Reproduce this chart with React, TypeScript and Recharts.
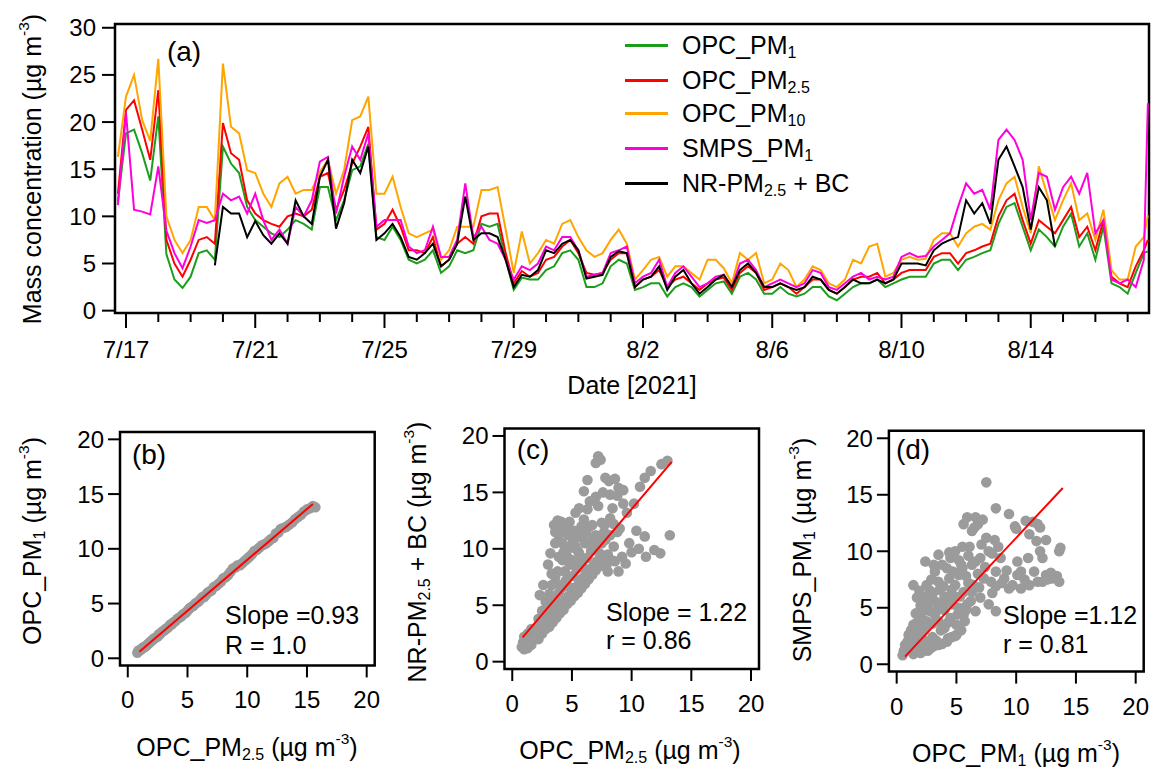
import React from "react";
import {
  LineChart,
  Line,
  XAxis,
  YAxis,
  ReferenceArea,
  ScatterChart,
  Scatter,
} from "recharts";

const FONT = '"Liberation Sans", Arial, Helvetica, sans-serif';

// time in days after 7/17 00:00, one reading every 6 h; last point is the final spike
const T0 = -0.25;
const DT = 0.25;
const T_LAST = 31.625;

const opcPm1 = [
  11.6, 18.8, 19.2, 16.7, 13.8, 20.6, 6.0, 3.3,
  2.4, 3.6, 6.1, 6.4, 5.4, 17.4, 15.6, 14.6,
  11.0, 9.6, 8.9, 8.2, 7.8, 8.6, 9.6, 9.2,
  8.6, 13.1, 13.1, 9.6, 11.7, 14.9, 15.3, 17.7,
  7.8, 7.5, 8.9, 7.5, 5.4, 5.0, 5.4, 6.4,
  4.0, 4.7, 6.4, 6.1, 6.4, 9.2, 8.9, 9.2,
  5.4, 2.2, 3.5, 3.3, 3.3, 4.3, 4.7, 6.1,
  6.4, 5.4, 2.5, 2.5, 2.9, 4.7, 5.4, 5.0,
  2.2, 2.5, 2.9, 2.9, 1.5, 2.5, 2.9, 2.5,
  1.5, 2.2, 2.9, 3.1, 1.8, 3.6, 4.0, 3.3,
  1.8, 1.8, 2.5, 1.8, 1.5, 1.8, 2.5, 2.5,
  1.5, 1.1, 1.8, 2.5, 2.9, 2.9, 3.3, 2.5,
  2.9, 3.3, 3.6, 3.6, 3.6, 5.0, 5.4, 5.4,
  4.3, 5.4, 5.7, 6.1, 6.4, 9.2, 11.0, 11.4,
  8.9, 6.4, 8.6, 7.8, 6.8, 8.9, 10.3, 6.8,
  8.2, 5.4, 8.9, 2.9, 2.5, 1.8, 4.0, 6.1,
  6.3,
];

const opcPm25 = [
  12.4, 21.3, 22.3, 19.2, 16.0, 23.4, 7.5, 5.0,
  3.6, 5.4, 7.5, 7.8, 7.1, 19.9, 16.7, 16.0,
  11.7, 10.3, 9.6, 9.2, 8.9, 10.0, 10.3, 10.0,
  10.7, 14.2, 14.6, 10.7, 12.8, 15.6, 17.4, 19.5,
  8.6, 9.2, 10.7, 8.9, 6.4, 6.4, 6.1, 7.8,
  4.7, 5.4, 7.1, 7.8, 7.1, 10.0, 10.3, 10.3,
  6.1, 2.9, 4.2, 3.6, 4.0, 5.4, 5.7, 6.8,
  7.5, 6.1, 4.0, 3.8, 4.0, 5.4, 6.1, 6.1,
  2.5, 3.3, 3.6, 4.3, 2.5, 3.3, 3.6, 2.9,
  2.2, 2.9, 3.3, 3.5, 2.2, 4.0, 4.7, 4.0,
  2.2, 2.5, 2.9, 2.5, 1.8, 2.5, 3.3, 3.3,
  2.2, 1.8, 2.5, 3.3, 3.6, 3.6, 4.0, 2.9,
  3.3, 4.0, 4.3, 4.3, 4.3, 5.7, 6.1, 6.1,
  5.0, 6.1, 6.4, 6.8, 7.1, 10.0, 11.7, 12.4,
  9.6, 7.1, 9.6, 8.9, 8.2, 9.6, 11.0, 7.8,
  8.9, 6.4, 9.6, 3.6, 2.9, 2.5, 4.7, 6.4,
  7.5,
];

const opcPm10 = [
  16.3, 22.7, 25.0, 20.2, 18.0, 26.7, 10.0, 7.5,
  6.1, 7.5, 11.0, 11.0, 9.6, 26.2, 19.5, 18.8,
  14.9, 14.6, 12.4, 11.0, 13.5, 14.2, 12.4, 12.8,
  12.8, 14.7, 16.0, 12.4, 14.9, 20.2, 20.6, 22.7,
  12.4, 12.4, 14.2, 11.0, 8.2, 7.8, 8.2, 8.6,
  5.4, 6.4, 8.9, 8.9, 8.9, 12.8, 12.8, 13.1,
  8.6, 4.0, 8.4, 5.0, 6.1, 7.5, 7.1, 9.2,
  9.6, 7.8, 6.4, 5.7, 6.1, 7.5, 8.6, 7.1,
  3.3, 4.3, 5.4, 5.7, 3.6, 4.7, 4.7, 4.0,
  3.3, 5.4, 5.4, 4.5, 2.9, 6.1, 5.4, 6.1,
  2.9, 3.3, 5.0, 4.3, 2.5, 3.3, 4.7, 4.3,
  2.9, 2.5, 3.3, 5.4, 5.0, 6.8, 7.1, 3.6,
  4.0, 5.4, 5.7, 5.4, 5.5, 7.5, 8.2, 8.2,
  6.8, 8.2, 8.9, 9.2, 8.6, 11.7, 13.5, 14.2,
  11.0, 8.2, 15.3, 12.4, 9.6, 11.7, 13.5, 9.6,
  10.3, 7.5, 10.7, 4.3, 3.3, 3.3, 6.8, 7.8,
  10.1,
];

const smpsPm1 = [
  11.2, 21.0, 10.7, 10.5, 10.2, 15.3, 8.5, 6.1,
  4.5, 6.8, 9.6, 9.3, 9.6, 12.4, 11.7, 12.1,
  10.3, 12.4, 9.6, 7.5, 8.6, 7.1, 11.0, 10.0,
  11.7, 15.8, 16.3, 10.3, 14.2, 17.4, 16.0, 18.8,
  8.9, 9.6, 9.6, 9.6, 6.8, 6.1, 6.4, 8.9,
  5.7, 5.7, 7.5, 13.5, 7.8, 8.9, 7.5, 7.1,
  5.4, 3.3, 4.7, 4.3, 5.0, 6.8, 6.4, 7.8,
  7.8, 6.4, 3.6, 3.8, 4.0, 6.1, 6.4, 6.8,
  2.9, 3.6, 4.0, 5.4, 2.5, 4.0, 4.7, 3.6,
  2.5, 2.9, 3.6, 3.8, 2.5, 5.0, 5.4, 4.3,
  2.5, 2.9, 3.3, 2.9, 2.5, 2.9, 4.3, 4.0,
  2.5, 2.2, 2.9, 3.6, 4.0, 3.3, 3.6, 3.3,
  3.6, 5.7, 6.1, 5.7, 5.8, 6.8, 7.5, 8.2,
  11.0, 13.5, 12.4, 12.8, 10.7, 18.1, 19.2, 18.1,
  16.0, 9.6, 14.6, 14.2, 10.7, 13.1, 14.2, 12.4,
  14.6, 8.2, 9.6, 3.3, 2.9, 3.3, 2.5, 5.4,
  22.0,
];

const nrPm25Bc = [
  null, null, null, null, null, null, null, null,
  null, null, null, null, 4.8, 11.0, 10.3, 10.3,
  7.8, 9.5, 8.0, 7.1, 8.2, 7.1, 11.7, 10.0,
  9.2, 14.2, 16.0, 8.7, 11.4, 16.0, 14.6, 17.4,
  7.5, 8.2, 9.2, 7.8, 5.7, 5.4, 6.1, 7.1,
  4.7, 5.4, 7.1, 12.1, 7.5, 8.2, 8.2, 7.8,
  5.4, 2.5, 3.8, 3.6, 4.3, 6.4, 6.1, 7.1,
  7.5, 6.4, 3.4, 3.6, 3.8, 5.7, 6.3, 6.1,
  2.5, 3.3, 3.6, 4.7, 2.2, 3.6, 4.3, 2.9,
  1.8, 2.5, 3.3, 3.8, 2.5, 4.3, 5.0, 4.0,
  2.5, 2.5, 2.9, 2.5, 2.2, 2.5, 3.6, 3.3,
  2.2, 1.8, 2.5, 3.3, 2.9, 2.9, 3.3, 2.9,
  3.3, 5.0, 5.0, 5.0, 4.8, 6.4, 7.1, 7.5,
  7.8, 11.7, 10.3, 11.4, 9.2, 16.0, 17.4, 15.3,
  13.1, 8.6, 13.1, 11.7, 6.8, null, null, null,
  null, null, null, null, null, null, null, null,
  null,
];

const dayTicks = [
  0, 1, 2, 3, 4, 5, 6, 7, 8, 9, 10, 11, 12, 13, 14, 15,
  16, 17, 18, 19, 20, 21, 22, 23, 24, 25, 26, 27, 28, 29, 30, 31,
];
const dateTicks = [0, 4, 8, 12, 16, 20, 24, 28];
const dateLabels = ["7/17", "7/21", "7/25", "7/29", "8/2", "8/6", "8/10", "8/14"];
const concTicks = [0, 5, 10, 15, 20, 25, 30];
const scatterTicks = [0, 5, 10, 15, 20];

// (b) OPC_PM2.5 vs OPC_PM1
const pointsB: [number, number][] = [
  [0.8, 0.5], [0.9, 0.7], [1.0, 0.7], [1.1, 0.8], [1.2, 0.9], [1.3, 1.0], [1.4, 1.0],
  [1.5, 1.1], [1.6, 1.2], [1.7, 1.3], [1.8, 1.4], [1.9, 1.5], [2.0, 1.6], [2.1, 1.7],
  [2.2, 1.8], [2.35, 1.9], [2.5, 2.0], [2.6, 2.2], [2.7, 2.2], [2.85, 2.4], [3.0, 2.5],
  [3.1, 2.6], [3.2, 2.7], [3.35, 2.8], [3.5, 3.0], [3.6, 3.1], [3.7, 3.1], [3.85, 3.3],
  [4.0, 3.4], [4.15, 3.6], [4.3, 3.7], [4.45, 3.8], [4.6, 4.0], [4.75, 4.1], [4.9, 4.2],
  [5.05, 4.4], [5.2, 4.6], [5.35, 4.7], [5.5, 4.8], [5.65, 5.0], [5.8, 5.1], [5.95, 5.2],
  [6.1, 5.4], [6.25, 5.6], [6.4, 5.6], [6.55, 5.8], [6.7, 6.0], [6.85, 6.1], [7.0, 6.2],
  [7.2, 6.5], [7.4, 6.6], [7.6, 6.8], [7.8, 7.0], [8.0, 7.3], [8.2, 7.4], [8.4, 7.6],
  [8.6, 7.9], [8.8, 8.2], [9.0, 8.3], [9.2, 8.5], [9.4, 8.5], [9.6, 8.7], [9.8, 8.9],
  [10.0, 9.1], [10.2, 9.3], [10.4, 9.5], [10.6, 9.8], [10.8, 9.9], [11.0, 10.1],
  [11.2, 10.3], [11.4, 10.4], [11.6, 10.5], [11.8, 10.7], [12.0, 10.9], [12.2, 11.0],
  [12.4, 11.4], [12.6, 11.5], [12.8, 11.8], [13.0, 11.9], [13.25, 12.0], [13.5, 12.2],
  [13.75, 12.4], [14.0, 12.7], [14.25, 12.9], [14.5, 13.1], [14.75, 13.4], [15.0, 13.6],
  [15.25, 13.7], [15.5, 13.9], [15.7, 13.8],
];

// (c) OPC_PM2.5 vs NR-PM2.5 + BC
const pointsC: [number, number][] = [
  [0.8, 1.3], [0.9, 1.7], [1.0, 2.2], [1.1, 1.4], [1.2, 2.0], [1.3, 2.5], [1.4, 1.6],
  [1.5, 2.3], [1.6, 2.9], [1.7, 1.9], [1.8, 2.7], [2.0, 2.3], [2.1, 3.1], [2.2, 3.8],
  [2.3, 2.6], [2.4, 3.5], [2.6, 3.0], [2.7, 3.9], [2.8, 4.6], [2.9, 3.4], [3.0, 4.4],
  [3.2, 3.7], [3.3, 4.9], [3.4, 5.8], [3.5, 4.1], [3.6, 5.5], [3.8, 4.5], [3.9, 6.1],
  [4.0, 6.8], [4.1, 5.0], [4.2, 6.6], [4.4, 5.4], [4.4, 8.0], [4.5, 7.2], [4.7, 5.8],
  [4.8, 6.6], [4.8, 8.6], [5.0, 6.2], [5.0, 9.0], [5.1, 7.6], [5.3, 6.6], [5.4, 8.2],
  [5.6, 7.0], [5.6, 9.6], [5.7, 8.8], [5.9, 7.4], [6.0, 8.3], [6.1, 10.5], [6.2, 7.7],
  [6.3, 9.2], [6.5, 8.1], [6.6, 9.8], [6.8, 8.5], [6.8, 11.0], [6.9, 10.3], [7.1, 8.9],
  [7.3, 9.6], [7.5, 10.5], [7.6, 9.2], [7.8, 10.8], [8.0, 9.5], [8.2, 11.2], [8.5, 10.2],
  [8.8, 11.5], [2.3, 5.9], [2.6, 6.8], [3.0, 8.6], [3.2, 9.6], [3.3, 7.8], [3.5, 12.1],
  [3.6, 10.5], [3.8, 8.0], [3.8, 12.5], [3.9, 11.2], [4.0, 11.8], [4.2, 9.0], [4.2, 10.5],
  [4.4, 11.6], [4.5, 10.2], [4.6, 12.1], [4.7, 11.2], [5.0, 8.8], [5.1, 10.6], [5.2, 11.6],
  [5.3, 13.2], [5.5, 9.8], [5.8, 11.0], [6.0, 12.6], [6.0, 15.1], [6.3, 16.1], [6.3, 13.5],
  [6.5, 12.0], [6.7, 12.1], [7.0, 11.2], [7.0, 14.6], [7.0, 17.6], [7.2, 18.2], [7.4, 17.9],
  [7.2, 13.8], [7.5, 12.3], [7.8, 12.2], [8.1, 16.0], [8.2, 12.7], [8.2, 14.8], [8.4, 13.6],
  [8.8, 14.7], [8.9, 15.4], [9.3, 15.2], [9.0, 11.8], [9.6, 13.2], [10.2, 14.0], [10.7, 15.5],
  [11.1, 16.3], [11.6, 16.9], [12.5, 17.5], [13.0, 17.8], [7.9, 8.6], [8.6, 8.9], [8.9, 8.0],
  [9.5, 8.7], [9.8, 10.5], [10.0, 9.7], [11.2, 9.3], [11.9, 9.9], [11.1, 11.1], [13.2, 11.2],
  [1.0, 1.1], [1.3, 1.2], [1.6, 1.5], [1.9, 2.0], [2.2, 2.0], [2.5, 2.5], [2.8, 2.9],
  [3.1, 3.1], [3.4, 3.5], [3.7, 3.9], [4.0, 4.3], [4.3, 4.6], [4.6, 5.1], [4.9, 5.4],
  [5.2, 5.8], [5.5, 6.1], [5.8, 6.5], [6.1, 6.9], [6.4, 7.3], [6.7, 7.7], [7.0, 8.1],
  [7.3, 8.5], [7.6, 8.5], [8.0, 8.0], [8.3, 9.0], [2.5, 4.5], [2.8, 5.3], [3.1, 6.0],
  [3.3, 6.8], [3.6, 7.5], [3.9, 9.3], [4.3, 9.7], [4.6, 9.3], [4.9, 10.1], [5.3, 10.2],
  [5.5, 11.2], [5.8, 12.0], [6.2, 11.5], [6.6, 10.7], [7.3, 10.9], [7.7, 11.5], [8.5, 12.2],
  [3.6, 11.5], [4.1, 12.4], [4.8, 12.4], [5.6, 13.6], [6.5, 14.2], [7.6, 15.0], [7.8, 16.3],
  [8.6, 16.2], [9.3, 14.0], [10.4, 11.6], [10.6, 10.0], [12.4, 9.6], [9.2, 9.3],
];

// (d) OPC_PM1 vs SMPS_PM1
const pointsD: [number, number][] = [
  [0.5, 0.8], [0.7, 1.7], [0.8, 1.2], [1.0, 2.6], [1.0, 1.4], [1.2, 2.0], [1.2, 3.0],
  [1.4, 3.5], [1.4, 0.9], [1.5, 2.8], [1.6, 4.5], [1.7, 2.3], [1.7, 5.9], [1.4, 7.0],
  [1.8, 1.5], [1.9, 4.0], [2.0, 1.0], [2.0, 5.2], [2.1, 4.1], [2.1, 1.1], [2.2, 6.0],
  [2.3, 3.0], [2.4, 3.2], [2.4, 9.1], [2.5, 1.8], [2.5, 7.0], [2.6, 5.0], [2.8, 4.7],
  [2.8, 6.5], [2.8, 1.4], [3.0, 3.6], [3.0, 2.4], [3.0, 6.2], [3.1, 8.8], [3.1, 1.6],
  [3.2, 4.4], [3.3, 5.5], [3.5, 3.8], [3.5, 7.3], [3.5, 9.7], [3.5, 1.7], [3.6, 6.6],
  [3.8, 5.0], [3.8, 1.8], [4.0, 6.0], [4.0, 4.8], [4.0, 3.2], [4.2, 8.5], [4.2, 2.0],
  [4.3, 2.3], [4.4, 7.6], [4.5, 4.1], [4.5, 9.4], [4.6, 2.4], [4.7, 5.3], [4.8, 6.0],
  [4.9, 2.5], [4.9, 7.0], [4.9, 10.0], [5.0, 2.6], [5.2, 7.9], [5.2, 5.0], [5.2, 9.2],
  [5.4, 3.0], [5.5, 8.5], [5.6, 4.4], [5.6, 6.4], [5.6, 12.4], [5.7, 3.8], [5.9, 5.3],
  [5.9, 13.0], [6.0, 7.2], [6.0, 9.6], [6.3, 6.4], [6.3, 8.8], [6.3, 11.8], [6.6, 4.7],
  [6.6, 13.0], [6.8, 12.4], [6.8, 8.0], [7.0, 5.9], [7.0, 9.4], [7.3, 7.6], [7.5, 11.2],
  [7.5, 16.1], [7.7, 5.3], [7.7, 10.0], [8.0, 6.3], [8.2, 11.0], [8.3, 4.7], [8.3, 6.9],
  [8.3, 8.2], [8.3, 13.8], [8.7, 9.4], [9.0, 7.6], [9.4, 6.7], [9.4, 13.3], [9.9, 12.2],
  [10.1, 7.9], [10.1, 9.1], [10.4, 6.7], [10.4, 8.2], [10.8, 12.7], [11.0, 9.4], [11.1, 7.0],
  [11.1, 11.5], [11.5, 8.2], [11.7, 10.9], [11.8, 7.3], [11.8, 12.4], [12.0, 10.0],
  [12.0, 12.1], [12.2, 7.3], [12.2, 9.4], [12.5, 7.9], [12.5, 11.0], [12.9, 8.1],
  [13.4, 7.8], [13.6, 7.3], [13.6, 10.0], [13.7, 10.3],
  [0.6, 1.2], [0.9, 2.0], [1.1, 1.6], [1.3, 2.4], [1.5, 1.2], [1.6, 3.6], [1.8, 2.8],
  [1.9, 6.5], [2.0, 3.4], [2.2, 2.2], [2.3, 4.8], [2.5, 3.8], [2.6, 1.2], [2.7, 5.6],
  [2.9, 7.5], [3.2, 8.2], [3.3, 2.1], [3.4, 4.8], [3.7, 3.0], [3.8, 8.8], [3.9, 6.9],
  [4.1, 5.5], [4.3, 3.7], [4.4, 9.9], [4.6, 6.6], [4.7, 8.2], [5.0, 3.5], [5.1, 4.4],
  [5.3, 6.0], [5.4, 8.8], [5.5, 10.4], [5.8, 4.8], [5.8, 7.8], [6.1, 10.4], [6.2, 5.6],
  [6.4, 7.0], [6.5, 12.1], [6.6, 9.1], [6.9, 6.8], [7.1, 10.6], [7.2, 12.8], [7.4, 8.6],
  [7.9, 7.3], [8.0, 9.8], [8.5, 10.4], [8.8, 7.2], [9.2, 8.3], [9.7, 7.0], [10.0, 12.0],
  [10.7, 7.5], [11.4, 12.6], [12.6, 7.5], [13.0, 7.6],
];

// regression lines (end points of the fit)
const fitB = [{ x: 0.97, y: 0.6 }, { x: 15.5, y: 14.1 }];
const fitC = [{ x: 0.87, y: 2.16 }, { x: 13.36, y: 17.7 }];
const fitD = [{ x: 0.7, y: 0.67 }, { x: 13.9, y: 15.6 }];

const seriesData = opcPm1.map((_, i) => ({
  t: i === opcPm1.length - 1 ? T_LAST : T0 + i * DT,
  pm1: opcPm1[i],
  pm25: opcPm25[i],
  pm10: opcPm10[i],
  smps: smpsPm1[i],
  nr: nrPm25Bc[i],
}));

const COLORS = {
  pm1: "#1c9e1c",
  pm25: "#ff0000",
  pm10: "#ffa500",
  smps: "#ff00dd",
  nr: "#000000",
};

const Sub = ({ children }: { children: React.ReactNode }) => (
  <span style={{ fontSize: "0.64em", verticalAlign: "-0.3em", lineHeight: 0 }}>{children}</span>
);
const Sup = ({ children }: { children: React.ReactNode }) => (
  <span style={{ fontSize: "0.62em", verticalAlign: "0.75em", lineHeight: 0 }}>{children}</span>
);
const Unit = () => (
  <>
    {" "}(µg m<Sup>-3</Sup>)
  </>
);

function Txt({
  x,
  y,
  size = 25,
  rotate = false,
  anchor = "middle",
  children,
}: {
  x: number;
  y: number;
  size?: number;
  rotate?: boolean;
  anchor?: "middle" | "start";
  children: React.ReactNode;
}) {
  const tr =
    anchor === "middle"
      ? `translate(-50%, -50%)${rotate ? " rotate(-90deg)" : ""}`
      : "translate(0, -50%)";
  return (
    <div
      style={{
        position: "absolute",
        left: x,
        top: y,
        transform: tr,
        fontFamily: FONT,
        fontSize: size,
        lineHeight: 1,
        whiteSpace: "nowrap",
        color: "#000",
      }}
    >
      {children}
    </div>
  );
}

function DateTick(props: any) {
  const { x, y, payload } = props;
  const k = dateTicks.indexOf(payload.value);
  const major = k >= 0;
  return (
    <g>
      <line x1={x} x2={x} y1={y} y2={y + (major ? 15 : 9)} stroke="#000" strokeWidth={2} />
      {major && (
        <text x={x} y={y + 45} textAnchor="middle" fontSize={24} fontFamily={FONT} fill="#000">
          {dateLabels[k]}
        </text>
      )}
    </g>
  );
}

const X_MIN = -0.34;
const X_MAX = 31.66;
const Y_MIN = -0.25;
const Y_MAX = 30.4;
const S_MIN = -0.65;
const S_MAX = 20.67;

const tickStyle = { fontSize: 24, fill: "#000", fontFamily: FONT };
const tickLineStyle = { stroke: "#000", strokeWidth: 2 };

function TimeSeries() {
  return (
    <div style={{ position: "absolute", left: 0, top: 0 }}>
      <LineChart
        width={1151}
        height={400}
        data={seriesData}
        margin={{ top: 24, right: 2, bottom: 27, left: 0 }}
      >
        <XAxis
          type="number"
          dataKey="t"
          domain={[X_MIN, X_MAX]}
          allowDataOverflow
          ticks={dayTicks}
          interval={0}
          tick={<DateTick />}
          tickLine={false}
          tickSize={0}
          tickMargin={0}
          axisLine={false}
          height={60}
        />
        <YAxis
          type="number"
          domain={[Y_MIN, Y_MAX]}
          allowDataOverflow
          ticks={concTicks}
          interval={0}
          width={115}
          tick={tickStyle}
          tickLine={tickLineStyle}
          tickSize={13}
          tickMargin={6}
          axisLine={false}
        />
        <ReferenceArea
          x1={X_MIN}
          x2={X_MAX}
          y1={Y_MIN}
          y2={Y_MAX}
          fill="none"
          fillOpacity={0}
          stroke="#000"
          strokeWidth={2.5}
          ifOverflow="visible"
        />
        <Line dataKey="pm1" stroke={COLORS.pm1} strokeWidth={2} dot={false} isAnimationActive={false} />
        <Line dataKey="pm25" stroke={COLORS.pm25} strokeWidth={2} dot={false} isAnimationActive={false} />
        <Line dataKey="pm10" stroke={COLORS.pm10} strokeWidth={2} dot={false} isAnimationActive={false} />
        <Line dataKey="smps" stroke={COLORS.smps} strokeWidth={2} dot={false} isAnimationActive={false} />
        <Line dataKey="nr" stroke={COLORS.nr} strokeWidth={2} dot={false} isAnimationActive={false} />
      </LineChart>
    </div>
  );
}

const Dot = (props: any) => <circle cx={props.cx} cy={props.cy} r={5.3} fill="#9b9b9b" />;
const NoDot = () => <g />;

function ScatterPanel({
  left,
  width,
  plotLeft,
  plotRight,
  plotTop,
  plotBottom,
  points,
  fit,
}: {
  left: number;
  width: number;
  plotLeft: number;
  plotRight: number;
  plotTop: number;
  plotBottom: number;
  points: [number, number][];
  fit: { x: number; y: number }[];
}) {
  const top = 400;
  const height = 370;
  const xAxisH = 50;
  const data = points.map(([x, y]) => ({ x, y }));
  return (
    <div style={{ position: "absolute", left, top }}>
      <ScatterChart
        width={width}
        height={height}
        margin={{
          top: plotTop - top,
          right: left + width - plotRight,
          bottom: top + height - plotBottom - xAxisH,
          left: 0,
        }}
      >
        <XAxis
          type="number"
          dataKey="x"
          domain={[S_MIN, S_MAX]}
          allowDataOverflow
          ticks={scatterTicks}
          interval={0}
          tick={tickStyle}
          tickLine={tickLineStyle}
          tickSize={12}
          tickMargin={14}
          axisLine={false}
          height={xAxisH}
        />
        <YAxis
          type="number"
          dataKey="y"
          domain={[S_MIN, S_MAX]}
          allowDataOverflow
          ticks={scatterTicks}
          interval={0}
          width={plotLeft - left}
          tick={tickStyle}
          tickLine={tickLineStyle}
          tickSize={12}
          tickMargin={4}
          axisLine={false}
        />
        <ReferenceArea
          x1={S_MIN}
          x2={S_MAX}
          y1={S_MIN}
          y2={S_MAX}
          fill="none"
          fillOpacity={0}
          stroke="#000"
          strokeWidth={2.5}
          ifOverflow="visible"
        />
        <Scatter data={data} shape={<Dot />} isAnimationActive={false} />
        <Scatter
          data={fit}
          line={{ stroke: "#ff0000", strokeWidth: 2 }}
          lineJointType="linear"
          shape={<NoDot />}
          isAnimationActive={false}
        />
      </ScatterChart>
    </div>
  );
}

const legendItems = [
  { key: "pm1", label: <>OPC_PM<Sub>1</Sub></> },
  { key: "pm25", label: <>OPC_PM<Sub>2.5</Sub></> },
  { key: "pm10", label: <>OPC_PM<Sub>10</Sub></> },
  { key: "smps", label: <>SMPS_PM<Sub>1</Sub></> },
  { key: "nr", label: <>NR-PM<Sub>2.5</Sub> + BC</> },
];
const legendRowY = [45, 80, 113, 148, 183];

export default function App() {
  return (
    <div
      style={{
        position: "absolute",
        left: 0,
        top: 0,
        width: 1151,
        height: 770,
        background: "#fff",
        overflow: "hidden",
      }}
    >
      <TimeSeries />
      <ScatterPanel left={0} width={400} plotLeft={120} plotRight={374.7} plotTop={432} plotBottom={665.4} points={pointsB} fit={fitB} />
      <ScatterPanel left={380} width={400} plotLeft={504.5} plotRight={759} plotTop={428.4} plotBottom={669} points={pointsC} fit={fitC} />
      <ScatterPanel left={760} width={391} plotLeft={888.9} plotRight={1143.7} plotTop={430.7} plotBottom={671.6} points={pointsD} fit={fitD} />

      {legendItems.map((it, i) => (
        <React.Fragment key={it.key}>
          <div
            style={{
              position: "absolute",
              left: 625,
              top: legendRowY[i] - 1.5,
              width: 43,
              height: 3,
              background: COLORS[it.key as keyof typeof COLORS],
            }}
          />
          <Txt x={682} y={legendRowY[i]} anchor="start">
            {it.label}
          </Txt>
        </React.Fragment>
      ))}

      <Txt x={184} y={52} size={28}>(a)</Txt>
      <Txt x={32} y={169} rotate>
        Mass concentration<Unit />
      </Txt>
      <Txt x={632} y={385}>Date [2021]</Txt>

      <Txt x={149} y={455} size={28}>(b)</Txt>
      <Txt x={225} y={615} anchor="start">Slope =0.93</Txt>
      <Txt x={225} y={645} anchor="start">R = 1.0</Txt>
      <Txt x={32} y={541} rotate>
        OPC_PM<Sub>1</Sub>
        <Unit />
      </Txt>
      <Txt x={247} y={747}>
        OPC_PM<Sub>2.5</Sub>
        <Unit />
      </Txt>

      <Txt x={533} y={450} size={28}>(c)</Txt>
      <Txt x={606} y={612} anchor="start">Slope = 1.22</Txt>
      <Txt x={606} y={640} anchor="start">r = 0.86</Txt>
      <Txt x={417} y={552} rotate>
        NR-PM<Sub>2.5</Sub> + BC<Unit />
      </Txt>
      <Txt x={630} y={750}>
        OPC_PM<Sub>2.5</Sub>
        <Unit />
      </Txt>

      <Txt x={913} y={450} size={28}>(d)</Txt>
      <Txt x={1003} y={615} anchor="start">Slope =1.12</Txt>
      <Txt x={1003} y={644} anchor="start">r = 0.81</Txt>
      <Txt x={802} y={550} rotate>
        SMPS_PM<Sub>1</Sub>
        <Unit />
      </Txt>
      <Txt x={1016} y={753}>
        OPC_PM<Sub>1</Sub>
        <Unit />
      </Txt>
    </div>
  );
}
